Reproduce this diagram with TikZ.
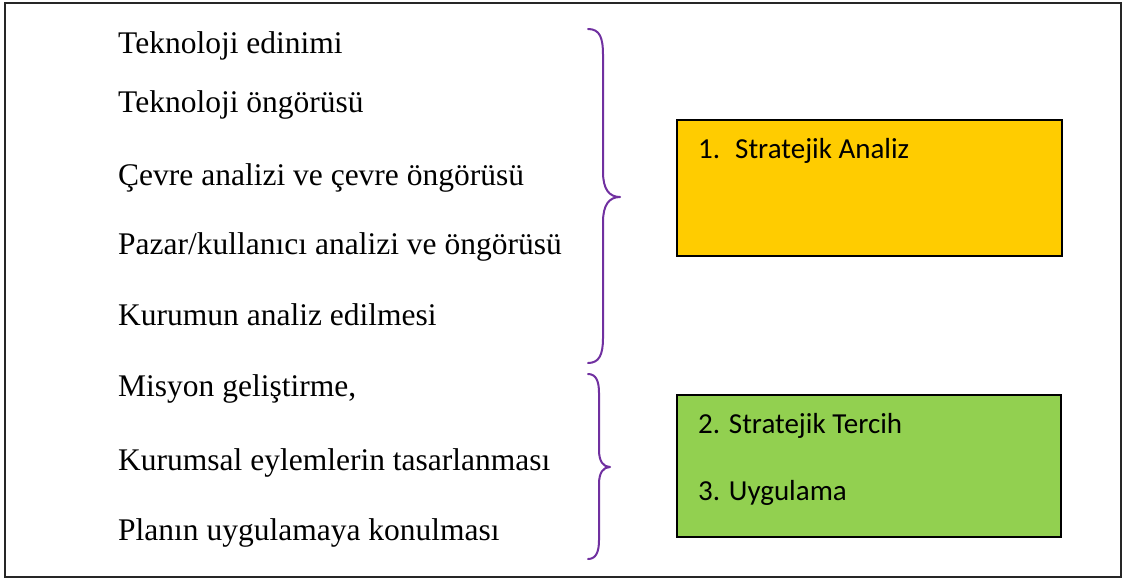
\documentclass[tikz,border=0pt]{standalone}
\usepackage{fontspec}
\setmainfont{Liberation Serif}
\newfontfamily\calfont{Carlito}
\definecolor{bracepurple}{RGB}{112,48,160}
\definecolor{boxyellow}{RGB}{255,204,0}
\definecolor{boxgreen}{RGB}{146,208,80}
\begin{document}
\begin{tikzpicture}[x=1pt,y=-1pt,
  item/.style={anchor=base west,inner sep=0pt,font=\fontsize{31.5}{36}\selectfont},
  boxtext/.style={anchor=base west,inner sep=0pt,font=\calfont\fontsize{29}{34}\selectfont},
  panel/.style={draw=black,line width=1.5pt},
  bracestyle/.style={draw=bracepurple,line width=2pt,line cap=round,line join=round}]
\useasboundingbox (0,0) rectangle (1123,578);
\draw[line width=1.8pt,draw=black!85] (5,3) rectangle (1121,577);
% left items
\node[item] (t1) at (118,54) {Teknoloji edinimi};
\node[item] (t2) at (118,112) {Teknoloji öngörüsü};
\node[item] (t3) at (118,185) {Çevre analizi ve çevre öngörüsü};
\node[item] (t4) at (118,254) {Pazar/kullanıcı analizi ve öngörüsü};
\node[item] (t5) at (118,325) {Kurumun analiz edilmesi};
\node[item] (t6) at (118,396) {Misyon geliştirme,};
\node[item] (t7) at (118,470) {Kurumsal eylemlerin tasarlanması};
\node[item] (t8) at (118,540) {Planın uygulamaya konulması};
% braces
\draw[bracestyle] (588,29) .. controls (600,29) and (603,38) .. (603,55) -- (603,172)
  .. controls (603,189) and (609,197) .. (620,197)
  .. controls (609,197) and (603,205) .. (603,222) -- (603,338)
  .. controls (603,355) and (599,363) .. (588,363);
\draw[bracestyle] (588,374) .. controls (596,374) and (599,381) .. (599,393) -- (599,450)
  .. controls (599,461) and (603,467) .. (610,467)
  .. controls (603,467) and (599,473) .. (599,484) -- (599,540)
  .. controls (599,552) and (596,559) .. (588,559);
% boxes
\node[panel,fill=boxyellow,minimum width=385pt,minimum height=136pt,anchor=north west,inner sep=0pt] (sa) at (676,119) {};
\node[boxtext] (sat) at (698,158) {1.\hspace{15pt}Stratejik Analiz};
\node[panel,fill=boxgreen,minimum width=384pt,minimum height=142pt,anchor=north west,inner sep=0pt] (st) at (676,394) {};
\node[boxtext] (stt) at (698,433) {2. Stratejik Tercih};
\node[boxtext] (ugt) at (698,500) {3. Uygulama};
\end{tikzpicture}
\end{document}
